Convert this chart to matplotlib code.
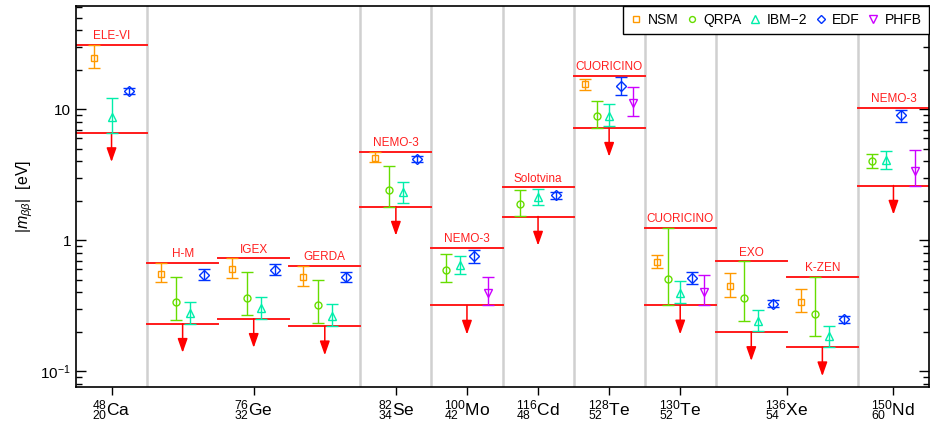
import numpy as np
import matplotlib
matplotlib.use("Agg")
import matplotlib.pyplot as plt
from matplotlib.lines import Line2D
from matplotlib.ticker import FixedLocator, LogLocator, NullFormatter, FuncFormatter

plt.rcParams['font.family'] = ['Liberation Sans', 'DejaVu Sans']
plt.rcParams['mathtext.fontset'] = 'custom'
plt.rcParams['mathtext.rm'] = 'Liberation Sans'
plt.rcParams['mathtext.it'] = 'Liberation Sans:italic'
plt.rcParams['mathtext.bf'] = 'Liberation Sans:bold'

nan = np.nan

# ---- data ----
experiments = ['ELE-VI', 'H-M', 'IGEX', 'GERDA', 'NEMO-3', 'NEMO-3', 'Solotvina',
               'CUORICINO', 'CUORICINO', 'EXO', 'K-ZEN', 'NEMO-3']
bin_isotope = [0, 1, 1, 1, 2, 3, 4, 5, 6, 7, 7, 8]
isotope_labels = [r'$^{48}_{20}\mathrm{Ca}$', r'$^{76}_{32}\mathrm{Ge}$', r'$^{82}_{34}\mathrm{Se}$',
                  r'$^{100}_{42}\mathrm{Mo}$', r'$^{116}_{48}\mathrm{Cd}$', r'$^{128}_{52}\mathrm{Te}$',
                  r'$^{130}_{52}\mathrm{Te}$', r'$^{136}_{54}\mathrm{Xe}$', r'$^{150}_{60}\mathrm{Nd}$']

lim_hi = [31.0, 0.672, 0.729, 0.641, 4.73, 0.880, 2.54, 18.0, 1.24, 0.691, 0.525, 10.25]
lim_lo = [6.6, 0.231, 0.252, 0.221, 1.81, 0.318, 1.52, 7.25, 0.319, 0.200, 0.153, 2.62]

nsm_val = [24.7, 0.557, 0.605, 0.528, 4.26, nan, nan, 15.6, 0.688, 0.449, 0.340, nan]
nsm_lo  = [20.7, 0.478, 0.516, 0.451, 3.94, nan, nan, 14.1, 0.615, 0.372, 0.284, nan]
nsm_hi  = [31.0, 0.672, 0.729, 0.635, 4.70, nan, nan, 17.1, 0.773, 0.560, 0.426, nan]

qrpa_val = [nan, 0.340, 0.365, 0.321, 2.43, 0.597, 1.88, 8.95, 0.510, 0.361, 0.274, 4.06]
qrpa_lo  = [nan, 0.248, 0.269, 0.234, 1.81, 0.481, 1.54, 7.25, 0.319, 0.244, 0.186, 3.59]
qrpa_hi  = [nan, 0.522, 0.574, 0.495, 3.70, 0.792, 2.43, 11.5, 1.24, 0.690, 0.525, 4.59]

ibm_val = [8.75, 0.279, 0.303, 0.266, 2.32, 0.652, 2.16, 8.85, 0.397, 0.243, 0.185, 4.13]
ibm_lo  = [6.6, 0.231, 0.252, 0.221, 1.92, 0.557, 1.85, 7.5, 0.330, 0.202, 0.153, 3.51]
ibm_hi  = [12.2, 0.340, 0.370, 0.325, 2.81, 0.764, 2.47, 10.9, 0.490, 0.294, 0.222, 4.81]

edf_val = [13.8, 0.547, 0.597, 0.525, 4.18, 0.764, 2.22, 15.2, 0.516, 0.329, 0.251, 9.0]
edf_lo  = [13.1, 0.501, 0.547, 0.478, 3.94, 0.672, 2.07, 12.9, 0.462, 0.310, 0.234, 8.05]
edf_hi  = [14.5, 0.605, 0.660, 0.577, 4.43, 0.849, 2.35, 17.7, 0.577, 0.348, 0.266, 9.83]

phfb_val = [nan, nan, nan, nan, nan, 0.397, nan, 11.1, 0.404, nan, nan, 3.40]
phfb_lo  = [nan, nan, nan, nan, nan, 0.318, nan, 8.95, 0.319, nan, nan, 2.62]
phfb_hi  = [nan, nan, nan, nan, nan, 0.522, nan, 14.7, 0.547, nan, nan, 4.90]

models = [
    ('NSM', nsm_val, nsm_lo, nsm_hi, 's', '#ff9900', 5.0),
    ('QRPA', qrpa_val, qrpa_lo, qrpa_hi, 'o', '#66dd00', 5.0),
    ('IBM\u22122', ibm_val, ibm_lo, ibm_hi, '^', '#00eeaa', 6.0),
    ('EDF', edf_val, edf_lo, edf_hi, 'D', '#0033ff', 5.0),
    ('PHFB', phfb_val, phfb_lo, phfb_hi, 'v', '#cc00ff', 6.0),
]

# ---- figure ----
fig = plt.figure(figsize=(9.3, 4.22), dpi=100)
ax = fig.add_axes([76/930, 1-387.3/422, (929-76)/930, (387.3-6)/422])
ax.set_yscale('log')
nb = len(experiments)
ax.set_xlim(0, nb)
ax.set_ylim(0.0755, 61.5)

# separators
for i in range(1, nb):
    if bin_isotope[i] != bin_isotope[i-1]:
        ax.axvline(i, color='#d0d0d0', lw=1.8, zorder=0)

# experiment limits
for i in range(nb):
    ax.plot([i, i+1], [lim_hi[i], lim_hi[i]], color='#ff1a1a', lw=1.4, zorder=2)
    ax.plot([i, i+1], [lim_lo[i], lim_lo[i]], color='#ff1a1a', lw=1.4, zorder=2)
    ax.annotate('', xy=(i+0.5, lim_lo[i]*0.60), xytext=(i+0.5, lim_lo[i]),
                arrowprops=dict(arrowstyle='-|>,head_length=0.85,head_width=0.3',
                                color='#ff0000', lw=1.1, shrinkA=0, shrinkB=0,
                                mutation_scale=10), zorder=3)
    ax.annotate(experiments[i], xy=(i+0.5, lim_hi[i]), xytext=(0, 2.0),
                textcoords='offset points', ha='center', va='bottom',
                color='#ff2020', fontsize=8.5)

# model points
for i in range(nb):
    present = [m for m in models if not np.isnan(m[1][i])]
    n = len(present)
    for k, (name, val, lo, hi, mk, col, ms) in enumerate(present):
        x = i + (k+1)/(n+1)
        v = val[i]
        ax.errorbar([x], [v], yerr=[[v-lo[i]], [hi[i]-v]], fmt=mk, mfc='none',
                    mec=col, color=col, ms=ms, mew=1.0, elinewidth=1.0,
                    capsize=4.3, capthick=1.0, zorder=4)

# axes ticks
iso_pos = []
for g in range(len(isotope_labels)):
    idx = [i for i in range(nb) if bin_isotope[i] == g]
    iso_pos.append((min(idx) + max(idx) + 1) / 2)
ax.set_xticks(iso_pos)
ax.set_xticklabels(isotope_labels, fontsize=12.5)
ax.tick_params(axis='x', direction='out', length=6, width=1, top=False, pad=2)
ax.xaxis.set_minor_locator(FixedLocator([]))

ax.yaxis.set_major_locator(LogLocator(base=10, numticks=10))
ax.yaxis.set_minor_locator(LogLocator(base=10, subs=np.arange(2, 10), numticks=20))
ax.yaxis.set_minor_formatter(NullFormatter())

def yfmt(v, pos):
    if abs(v - 0.1) < 1e-9:
        return r'$10^{-1}$'
    if abs(v - 1) < 1e-9:
        return '1'
    if abs(v - 10) < 1e-9:
        return '10'
    return ''
ax.yaxis.set_major_formatter(FuncFormatter(yfmt))
ax.tick_params(axis='y', which='major', direction='in', length=7, width=1, right=True, labelsize=11)
ax.tick_params(axis='y', which='minor', direction='in', length=4, width=1, right=True)
for s in ax.spines.values():
    s.set_linewidth(1.2)

ax.set_ylabel(r'$|m_{\beta\beta}|$  [eV]', fontsize=11.5, labelpad=4)

# legend
handles = [Line2D([], [], ls='none', marker=m[4], mfc='none', mec=m[5], ms=m[6]*0.85, mew=1.0)
           for m in models]
leg = ax.legend(handles, [m[0] for m in models], ncol=5, loc='upper right',
                frameon=True, fancybox=False, edgecolor='black', framealpha=1,
                borderaxespad=0, handlelength=0.9, handletextpad=0.4,
                columnspacing=0.5, fontsize=10, borderpad=0.5)
leg.get_frame().set_linewidth(1.0)

fig.savefig('out.png', dpi=100)
